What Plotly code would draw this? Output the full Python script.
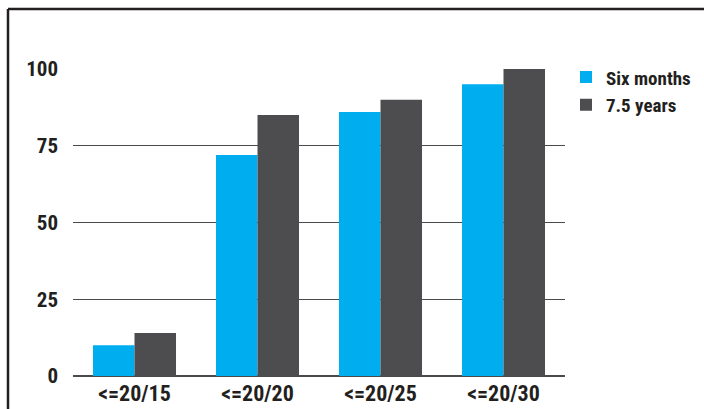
import plotly.graph_objects as go

categories = ["<=20/15", "<=20/20", "<=20/25", "<=20/30"]
six_months = [10, 72, 86, 95]
years_7_5 = [14, 85, 90, 100]
y_ticks = [0, 25, 50, 75, 100]

FONT = "Roboto Condensed, Liberation Sans Narrow, Arial Narrow, sans-serif"

fig = go.Figure()
fig.add_trace(go.Bar(x=categories, y=six_months, name="Six months",
                     marker=dict(color="#00AEEF", line=dict(width=0))))
fig.add_trace(go.Bar(x=categories, y=years_7_5, name="7.5 years",
                     marker=dict(color="#4D4D4F", line=dict(width=0))))

fig.update_layout(
    width=704, height=409,
    margin=dict(l=73, r=139, t=69, b=33, autoexpand=False),
    paper_bgcolor="white", plot_bgcolor="white",
    barmode="group", bargap=0.325, bargroupgap=0,
    font=dict(family=FONT, size=19, color="#231f20"),
    showlegend=True,
    legend=dict(x=(566 - 73) / 492, y=1.035, xanchor="left", yanchor="top",
                font=dict(family=FONT, size=19, color="#231f20", weight="bold"),
                bgcolor="rgba(0,0,0,0)", tracegroupgap=2, itemwidth=30),
    xaxis=dict(showgrid=False, showline=False, ticks="", zeroline=False,
               ticklabelstandoff=2, automargin=False,
               tickfont=dict(family=FONT, size=22, weight="bold", color="#231f20")),
    yaxis=dict(range=[0, 100], tickvals=y_ticks, showgrid=True,
               gridcolor="#4a4a4a", gridwidth=1.4, zeroline=True,
               zerolinecolor="#4a4a4a", zerolinewidth=1.6, showline=False,
               ticks="", ticklabelstandoff=14, automargin=False,
               tickfont=dict(family=FONT, size=21, weight="bold", color="#231f20")),
    shapes=[
        dict(type="line", xref="paper", yref="paper",
             x0=(8 - 73) / 492, x1=(720 - 73) / 492,
             y0=(376 - 9) / 307, y1=(376 - 9) / 307,
             line=dict(color="#231f20", width=2.5)),
        dict(type="line", xref="paper", yref="paper",
             x0=(8 - 73) / 492, x1=(8 - 73) / 492,
             y0=(376 - 9) / 307, y1=(376 - 430) / 307,
             line=dict(color="#231f20", width=2.5)),
    ],
)

fig.write_html("out.html")
